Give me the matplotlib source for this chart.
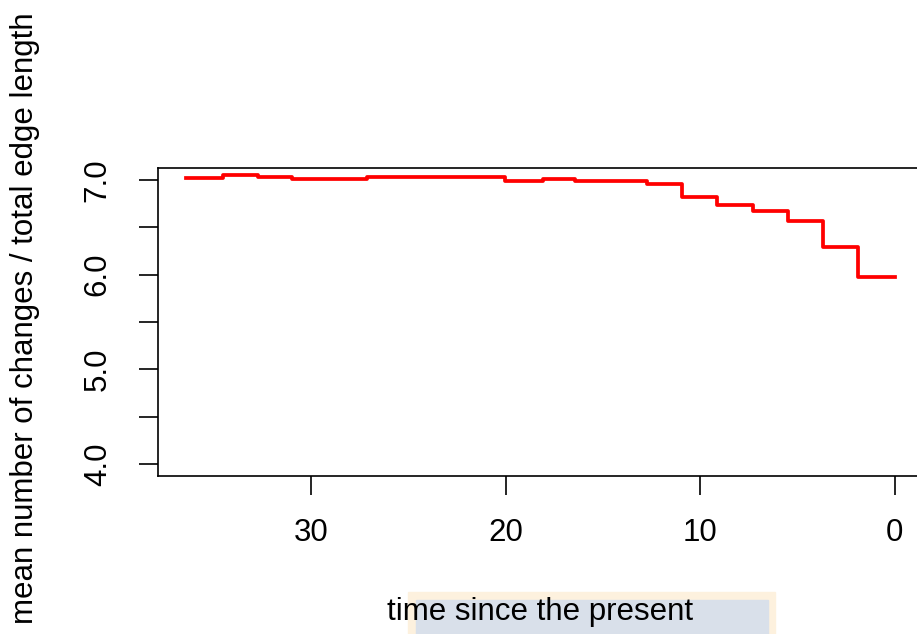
import matplotlib
matplotlib.use("Agg")
import matplotlib.pyplot as plt
from matplotlib.patches import Rectangle

plt.rcParams['font.family'] = ['Liberation Sans', 'DejaVu Sans']

# left edge of each step (time before present) and the final end point
step_times = [36.43, 34.53, 32.73, 30.98, 27.13, 20.04, 18.09, 16.44,
              12.73, 10.94, 9.14, 7.29, 5.48, 3.68, 1.88, 0.0]
# mean number of changes / total edge length in each step
step_values = [7.024, 7.055, 7.035, 7.007, 7.035, 6.99, 7.014, 6.99,
               6.955, 6.824, 6.736, 6.673, 6.57, 6.296, 5.979]

x_ticks = [30, 20, 10, 0]
y_ticks = [4.0, 5.0, 6.0, 7.0]
y_minor = [4.5, 5.5, 6.5]

fig = plt.figure(figsize=(9.17, 6.34), dpi=100)

# faint background box behind the x label (as in the source image)
fig.patches.append(Rectangle((408 / 917, 0), (775 - 408) / 917, 42 / 634,
                             transform=fig.transFigure, color='#fdf1de', zorder=0))
fig.patches.append(Rectangle((416 / 917, 0), (768 - 416) / 917, 34 / 634,
                             transform=fig.transFigure, color='#d9e0ea', zorder=0))

ax = fig.add_axes([158 / 917, 0.2492, 765 / 917, 0.4863])
ax.set_zorder(2)
ax.patch.set_alpha(0)

vals = step_values + [step_values[-1]]
ax.step(step_times, vals, where='post', color='red', linewidth=2.7)

ax.set_xlim(37.87, -1.46)
ax.set_ylim(3.873, 7.13)

ax.set_xticks(x_ticks)
ax.set_xticklabels([str(t) for t in x_ticks])
ax.set_yticks(y_ticks)
ax.set_yticklabels([f"{v:.1f}" for v in y_ticks], rotation=90, va='center')
ax.set_yticks(y_minor, minor=True)

for s in ax.spines.values():
    s.set_linewidth(1.2)
ax.tick_params(which='both', length=13.5, width=1.2, labelsize=22.5, color='black')
ax.tick_params(axis='x', pad=17)
ax.tick_params(axis='y', pad=19)

ax.set_xlabel('time since the present', fontsize=22.5)
ax.xaxis.set_label_coords(0.5, -0.441)
ax.xaxis.label.set_va('center')
ax.set_ylabel('mean number of changes / total edge length', fontsize=22.5)
ax.yaxis.set_label_coords(-0.1739, 0.512)
ax.yaxis.label.set_va('center')

fig.savefig('out.png', dpi=100)
